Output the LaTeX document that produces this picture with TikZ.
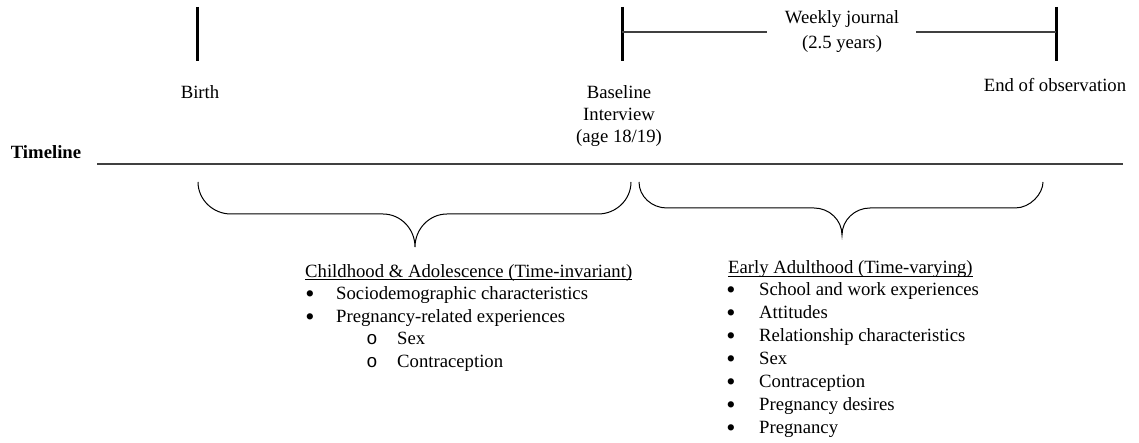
\documentclass[tikz,border=0pt]{standalone}
\usepackage{fontspec}
\setmainfont{Liberation Serif}
\newfontfamily\monofam{Liberation Mono}
\begin{document}
\begin{tikzpicture}[x=1pt,y=-1pt,
  txt/.style={inner sep=0pt, font=\fontsize{18.7}{22.5}\selectfont},
  lbl/.style={txt, anchor=base},
  item/.style={txt, anchor=base west},
  bul/.style={txt, anchor=base, scale=1.4, yshift=-2.2pt},
  subbul/.style={txt, anchor=base, font=\fontsize{18.7}{22.5}\monofam},
  tickline/.style={line width=3pt, draw=black},
  axisline/.style={line width=1.3pt, draw=black!75},
  spanline/.style={line width=1.1pt, draw=black!75},
  bracepath/.style={line width=1pt, draw=black},
  uline/.style={line width=0.9pt, draw=black}]
\useasboundingbox (0,0) rectangle (1139,443);

% ticks
\coordinate (birthtop) at (197,7);   \coordinate (birthbot) at (197,61);
\coordinate (basetop) at (622,7);    \coordinate (basebot) at (622,61);
\coordinate (endtop) at (1056,7);    \coordinate (endbot) at (1056,61);
\coordinate (basemid) at (622,32);   \coordinate (endmid) at (1056,32);
\draw[tickline] (birthtop) -- (birthbot);
\draw[tickline] (basetop) -- (basebot);
\draw[tickline] (endtop) -- (endbot);

% weekly journal span
\node[lbl] (weekly) at (842,24) {Weekly journal};
\node[lbl] (years) at (842,48.5) {(2.5 years)};
\coordinate (wl1) at (767,32); \coordinate (wl2) at (916,32);
\draw[spanline] (basemid) -- (wl1);
\draw[spanline] (wl2) -- (endmid);

% labels
\node[lbl] (birth) at (200,98.5) {Birth};
\node[lbl] (base1) at (619,98.5) {Baseline};
\node[lbl] (base2) at (619,120.5) {Interview};
\node[lbl] (base3) at (619,142.5) {(age 18/19)};
\node[lbl] (endobs) at (1055,91.5) {End of observation};

% timeline
\node[txt, anchor=base, font=\fontsize{18.7}{22.5}\selectfont\bfseries] (tl) at (46,158.5) {Timeline};
\coordinate (tla) at (97,164); \coordinate (tlb) at (1123,164);
\draw[axisline] (tla) -- (tlb);

% braces
\draw[bracepath] (198,182) .. controls (198,199.6) and (212.9,214) .. (231,214)
  -- (383,214) .. controls (400.6,214) and (415,228.8) .. (415,247)
  .. controls (415,228.8) and (429.4,214) .. (447,214)
  -- (598,214) .. controls (616.2,214) and (631,199.6) .. (631,182);
\draw[bracepath] (639,182) .. controls (639,196.3) and (651.6,208) .. (667,208)
  -- (814,208) .. controls (829.4,208) and (842,220.2) .. (842,235)
  .. controls (842,220.2) and (854.6,208) .. (870,208)
  -- (1015,208) .. controls (1030.4,208) and (1043,193.7) .. (1043,182);

% left block
\node[item] (h1) at (305,277) {Childhood \& Adolescence (Time-invariant)};
\draw[uline] ([yshift=-2.5pt]h1.base west) -- ([yshift=-2.5pt]h1.base east);
\node[bul] (lb1) at (310,299.5) {•};
\node[item] (l1) at (336,299.5) {Sociodemographic characteristics};
\node[bul] (lb2) at (310,322) {•};
\node[item] (l2) at (336,322) {Pregnancy-related experiences};
\node[subbul] (ls1) at (372,344.5) {o};
\node[item] (l3) at (397,344.5) {Sex};
\node[subbul] (ls2) at (372,367) {o};
\node[item] (l4) at (397,367) {Contraception};

% right block
\node[item] (h2) at (728,273.5) {Early Adulthood (Time-varying)};
\draw[uline] ([yshift=-2.5pt]h2.base west) -- ([yshift=-2.5pt]h2.base east);
\foreach \t [count=\i from 0] in {School and work experiences, Attitudes, Relationship characteristics, Sex, Contraception, Pregnancy desires, Pregnancy}{
  \node[bul] (rb\i) at (731,295.6+22.9*\i) {•};
  \node[item] (r\i) at (759,295.6+22.9*\i) {\t};
}
\end{tikzpicture}
\end{document}
